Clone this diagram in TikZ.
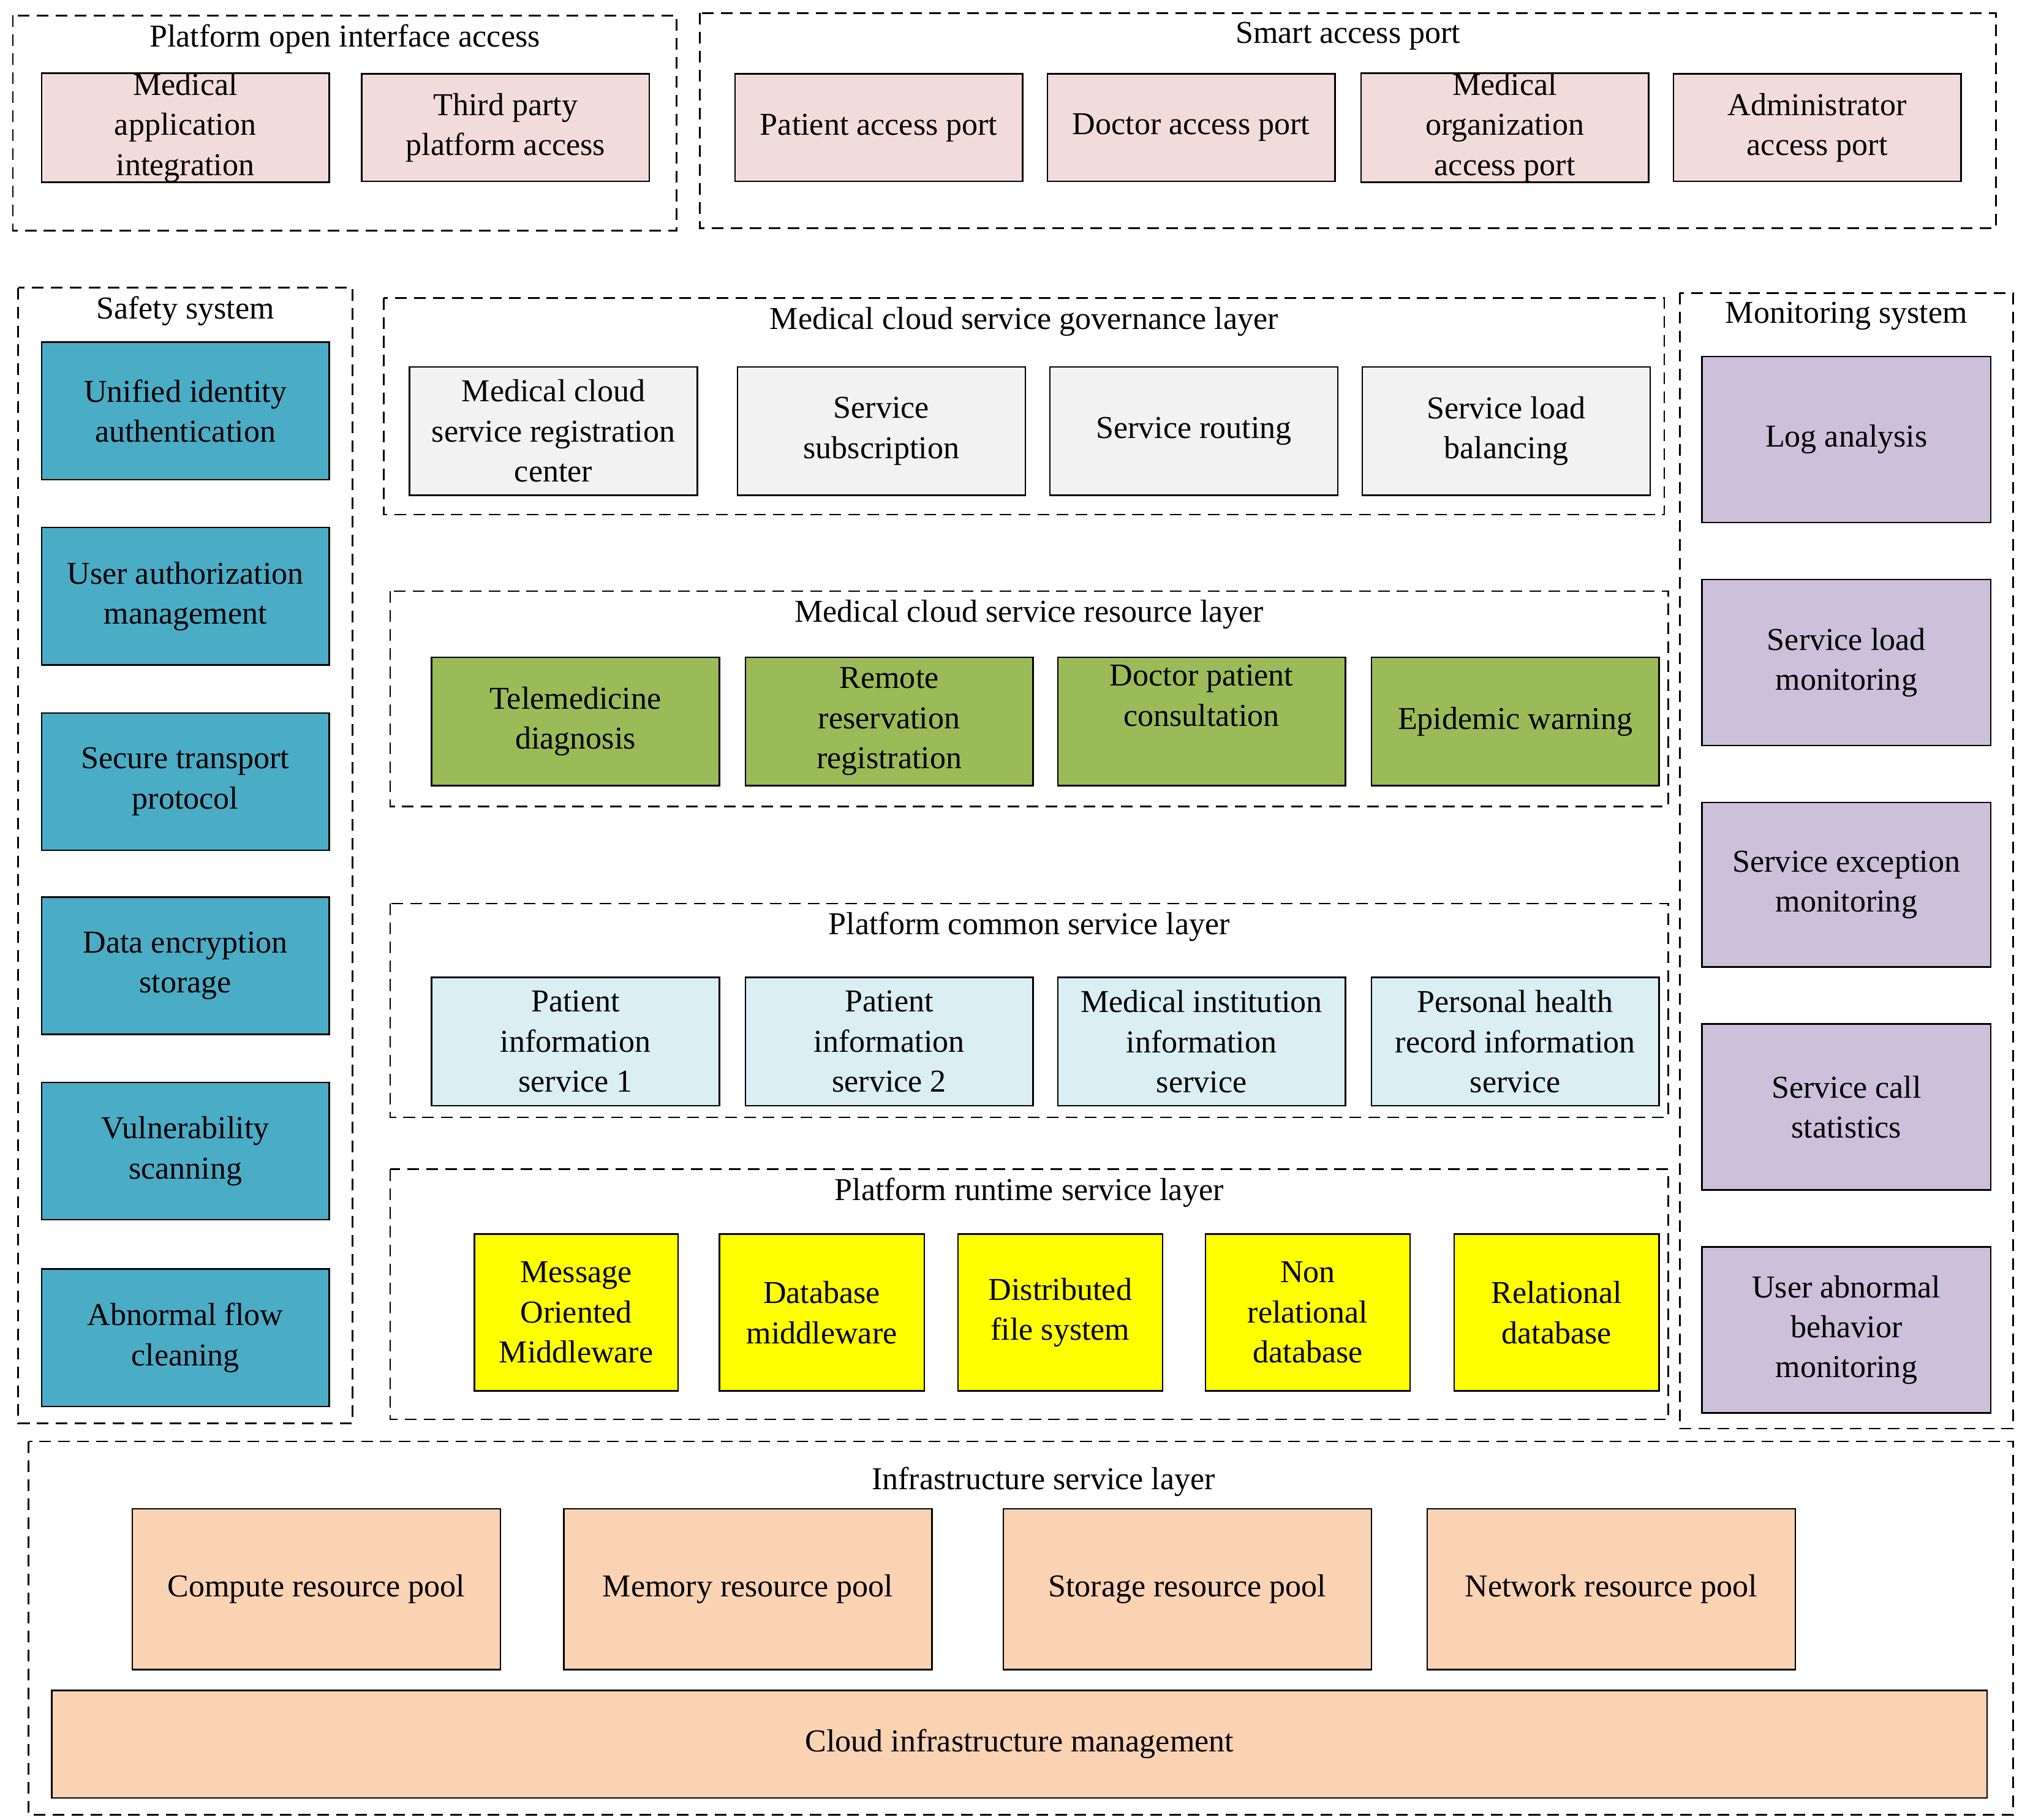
\documentclass[tikz,border=0pt]{standalone}
\usepackage{fontspec}
\setmainfont{Liberation Serif}
\definecolor{cpink}{HTML}{F2DCDB}
\definecolor{cblue}{HTML}{4BACC6}
\definecolor{cgray}{HTML}{F2F2F2}
\definecolor{cgreen}{HTML}{9BBB59}
\definecolor{clblue}{HTML}{DAEEF3}
\definecolor{cyel}{HTML}{FFFF00}
\definecolor{cpurp}{HTML}{CCC0DA}
\definecolor{cpeach}{HTML}{FAD3B4}
\newcommand\bx[7]{\pgfmathsetmacro\bw{(#4-#2)*0.05}\pgfmathsetmacro\bh{(#5-#3)*0.05}%
\node[box,fill=#6,minimum width=\bw cm,minimum height=\bh cm] (#1) at ({(#2+#4)/2},{(#3+#5)/2}) {#7};}
\newcommand\grp[6]{\draw[grp] (#2,#3) rectangle (#4,#5); \node[ttl] (#1) at ({(#2+#4)/2},#3+18) {#6};}
\begin{document}
\begin{tikzpicture}[x=0.05cm,y=-0.05cm,
 box/.style={draw,line width=1.6pt,inner sep=0pt,align=center,font=\fontsize{35}{44}\selectfont},
 grp/.style={line width=1.8pt,dash pattern=on 0.45cm off 0.28cm},
 ttl/.style={font=\fontsize{35}{44}\selectfont,inner sep=0pt}]
\useasboundingbox (0,0) rectangle (1560,1404);
\fill[white] (0,0) rectangle (1560,1404);
\grp{g1}{10}{12}{522}{178}{Platform open interface access}
\bx{a1}{32}{57}{254}{140}{cpink}{Medical\\application\\integration}
\bx{a2}{279}{57}{501}{140}{cpink}{Third party\\platform access}
\grp{g2}{540}{10}{1540}{176}{Smart access port}
\bx{s1}{567}{57}{789}{140}{cpink}{Patient access port}
\bx{s2}{808}{57}{1030}{140}{cpink}{Doctor access port}
\bx{s3}{1050}{57}{1272}{140}{cpink}{Medical\\organization\\access port}
\bx{s4}{1291}{57}{1513}{140}{cpink}{Administrator\\access port}
\grp{g3}{14}{222}{272}{1098}{Safety system}
\bx{f1}{32}{264}{254}{370}{cblue}{Unified identity\\authentication}
\bx{f2}{32}{407}{254}{513}{cblue}{User authorization\\management}
\bx{f3}{32}{550}{254}{656}{cblue}{Secure transport\\protocol}
\bx{f4}{32}{692}{254}{798}{cblue}{Data encryption\\storage}
\bx{f5}{32}{835}{254}{941}{cblue}{Vulnerability\\scanning}
\bx{f6}{32}{979}{254}{1085}{cblue}{Abnormal flow\\cleaning}
\grp{g4}{296}{230}{1284}{397}{Medical cloud service governance layer}
\bx{v1}{316}{283}{538}{382}{cgray}{Medical cloud\\service registration\\center}
\bx{v2}{569}{283}{791}{382}{cgray}{Service\\subscription}
\bx{v3}{810}{283}{1032}{382}{cgray}{Service routing}
\bx{v4}{1051}{283}{1273}{382}{cgray}{Service load\\balancing}
\grp{g5}{301}{456}{1287}{622}{Medical cloud service resource layer}
\bx{r1}{333}{507}{555}{606}{cgreen}{Telemedicine\\diagnosis}
\bx{r2}{575}{507}{797}{606}{cgreen}{Remote\\reservation\\registration}
\bx{r3}{816}{507}{1038}{606}{cgreen}{Doctor patient\\consultation\\\strut}
\bx{r4}{1058}{507}{1280}{606}{cgreen}{Epidemic warning}
\grp{g6}{301}{697}{1287}{862}{Platform common service layer}
\bx{c1}{333}{754}{555}{853}{clblue}{Patient\\information\\service 1}
\bx{c2}{575}{754}{797}{853}{clblue}{Patient\\information\\service 2}
\bx{c3}{816}{754}{1038}{853}{clblue}{Medical institution\\information\\service}
\bx{c4}{1058}{754}{1280}{853}{clblue}{Personal health\\record information\\service}
\grp{g7}{301}{902}{1287}{1095}{Platform runtime service layer}
\bx{t1}{366}{952}{523}{1073}{cyel}{Message\\Oriented\\Middleware}
\bx{t2}{555}{952}{713}{1073}{cyel}{Database\\middleware}
\bx{t3}{739}{952}{897}{1073}{cyel}{Distributed\\file system}
\bx{t4}{930}{952}{1088}{1073}{cyel}{Non\\relational\\database}
\bx{t5}{1122}{952}{1280}{1073}{cyel}{Relational\\database}
\grp{g8}{1296}{226}{1553}{1102}{Monitoring system}
\bx{m1}{1313}{275}{1536}{403}{cpurp}{Log analysis}
\bx{m2}{1313}{447}{1536}{575}{cpurp}{Service load\\monitoring}
\bx{m3}{1313}{619}{1536}{746}{cpurp}{Service exception\\monitoring}
\bx{m4}{1313}{790}{1536}{918}{cpurp}{Service call\\statistics}
\bx{m5}{1313}{962}{1536}{1090}{cpurp}{User abnormal\\behavior\\monitoring}
\draw[grp] (22,1112) rectangle (1553,1400);
\node[ttl] (g9) at (805,1143) {Infrastructure service layer};
\bx{i1}{102}{1164}{386}{1288}{cpeach}{Compute resource pool}
\bx{i2}{435}{1164}{719}{1288}{cpeach}{Memory resource pool}
\bx{i3}{774}{1164}{1058}{1288}{cpeach}{Storage resource pool}
\bx{i4}{1101}{1164}{1385}{1288}{cpeach}{Network resource pool}
\bx{i5}{40}{1304}{1533}{1387}{cpeach}{Cloud infrastructure management}
\end{tikzpicture}
\end{document}
